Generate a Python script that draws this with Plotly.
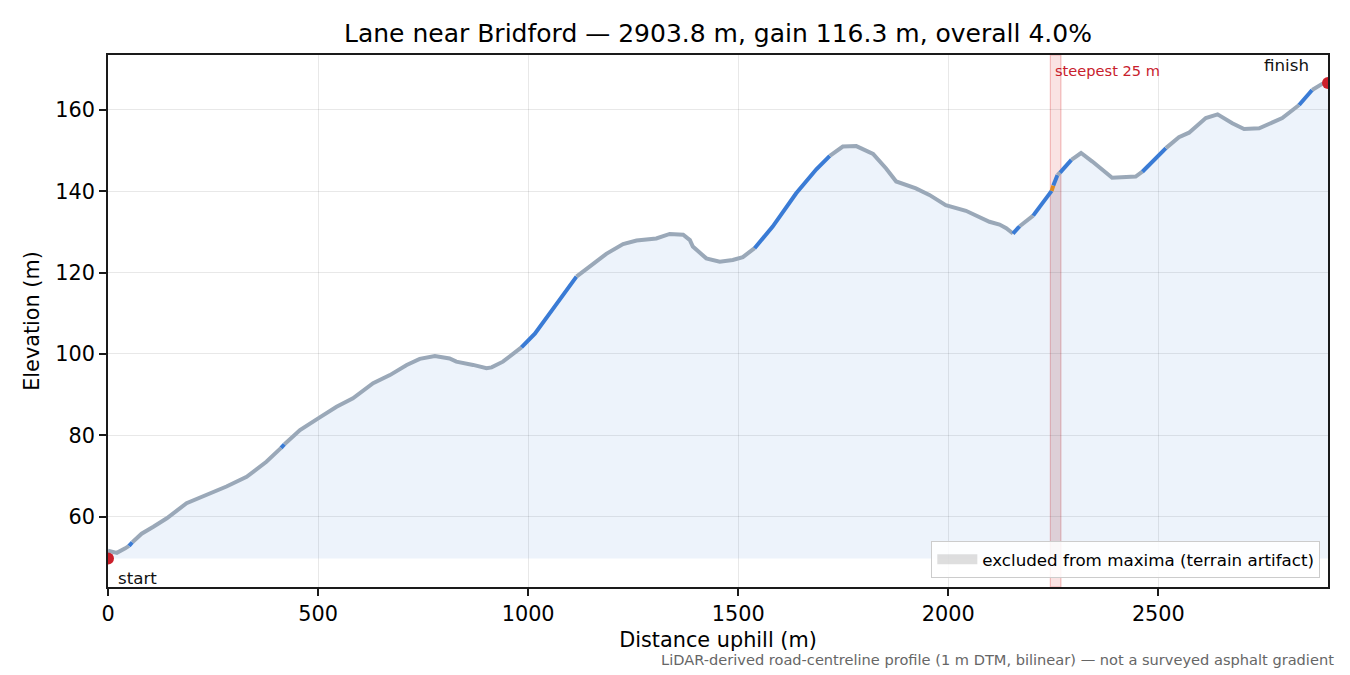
import numpy as np
import plotly.graph_objects as go

# ---- data ----
distance_m = [0, 21, 41, 50, 58, 80, 108, 140, 187, 243, 282, 330, 377, 412, 420, 457,
              504, 544, 583, 631, 671, 711, 742, 778, 813, 829, 869, 901, 913, 940, 984,
              1016, 1060, 1091, 1115, 1147, 1186, 1226, 1258, 1305, 1337, 1369, 1385, 1392,
              1424, 1456, 1487, 1511, 1527, 1539, 1582, 1638, 1686, 1718, 1749, 1781, 1821,
              1852, 1876, 1923, 1955, 1994, 2042, 2098, 2122, 2138, 2154, 2170, 2202, 2225,
              2246, 2250, 2260, 2266, 2293, 2316, 2343, 2390, 2446, 2462, 2518, 2549, 2573,
              2613, 2641, 2676, 2704, 2740, 2795, 2835, 2866, 2890, 2903.8]
elevation_m = [51.6, 51.1, 52.2, 52.8, 53.7, 55.8, 57.5, 59.6, 63.3, 65.7, 67.4, 69.8, 73.5,
               76.9, 77.8, 81.3, 84.4, 87.0, 89.1, 92.8, 94.8, 97.3, 98.8, 99.5, 98.9, 98.1,
               97.3, 96.5, 96.7, 98.1, 101.6, 105.0, 111.2, 115.7, 119.0, 121.5, 124.6,
               127.0, 127.9, 128.4, 129.5, 129.3, 128.0, 126.4, 123.5, 122.7, 123.1, 123.8,
               125.2, 126.0, 131.3, 139.5, 145.4, 148.7, 151.0, 151.1, 149.2, 145.6, 142.4,
               140.7, 139.1, 136.6, 135.2, 132.5, 131.8, 130.9, 129.6, 131.4, 134.0, 137.4,
               140.1, 141.4, 144.0, 144.6, 147.7, 149.4, 147.3, 143.3, 143.6, 144.8, 150.6,
               153.3, 154.4, 158.0, 158.9, 156.7, 155.3, 155.5, 158.0, 161.2, 164.9, 166.4,
               166.6]
start_point = [0, 49.7]
finish_point = [2903.8, 166.6]
steepest_span = [2243, 2268]
excluded_span = [2243, 2268]
grade_limits = [10.0, 30.0]          # % : below -> gray, between -> blue, above -> orange
grade_colors = ["#9aa8b8", "#3a7bd5", "#e08a1e"]
x_ticks = [0, 500, 1000, 1500, 2000, 2500]
y_ticks = [60, 80, 100, 120, 140, 160]

title = "Lane near Bridford \u2014 2903.8 m, gain 116.3 m, overall 4.0%"
footnote = "LiDAR-derived road-centreline profile (1 m DTM, bilinear) \u2014 not a surveyed asphalt gradient"

d = np.array(distance_m, dtype=float)
z = np.array(elevation_m, dtype=float)
base = start_point[1]

fig = go.Figure()

# area under profile
fig.add_trace(go.Scatter(
    x=list(d) + [d[-1], d[0]], y=list(z) + [base, base],
    fill="toself", fillcolor="rgba(58,120,216,0.09)", line=dict(width=0),
    mode="lines", hoverinfo="skip", showlegend=False))

# excluded region (under the line)
ex = np.concatenate([[excluded_span[0]], d[(d > excluded_span[0]) & (d < excluded_span[1])], [excluded_span[1]]])
ez = np.interp(ex, d, z)
fig.add_trace(go.Scatter(
    x=list(ex) + [ex[-1], ex[0]], y=list(ez) + [base, base],
    fill="toself", fillcolor="rgba(128,128,128,0.10)", line=dict(width=0),
    mode="lines", hoverinfo="skip", showlegend=False))
# legend entry for the excluded region
fig.add_trace(go.Scatter(
    x=[None], y=[None], mode="lines", name="excluded from maxima (terrain artifact)",
    line=dict(color="rgba(160,160,160,0.35)", width=12), showlegend=True))

# gradient-coloured profile line
grade = np.diff(z) / np.diff(d) * 100.0
cls = np.where(grade >= grade_limits[1], 2, np.where(grade >= grade_limits[0], 1, 0))
runs = []
start = 0
for i in range(1, len(cls) + 1):
    if i == len(cls) or cls[i] != cls[start]:
        runs.append((start, i, cls[start]))
        start = i
for (a, b, c) in runs:
    fig.add_trace(go.Scatter(
        x=d[a:b + 1], y=z[a:b + 1], mode="lines",
        line=dict(color=grade_colors[c], width=4), showlegend=False, hoverinfo="skip"))

# start / finish markers
fig.add_trace(go.Scatter(
    x=[start_point[0], finish_point[0]], y=[start_point[1], finish_point[1]],
    mode="markers", marker=dict(color="#cc1f2b", size=12), showlegend=False))

# steepest band
fig.add_shape(type="rect", xref="x", yref="paper", x0=steepest_span[0], x1=steepest_span[1],
              y0=0, y1=1, fillcolor="rgba(214,39,40,0.13)",
              line=dict(color="rgba(214,39,40,0.28)", width=1.2), layer="below")

fig.add_annotation(x=steepest_span[0] + 7, y=169.8, xref="x", yref="y", text="steepest 25 m",
                   showarrow=False, xanchor="left", yanchor="middle",
                   font=dict(size=14.6, color="#c8202c"))
fig.add_annotation(x=2864, y=171.1, xref="x", yref="y", text="finish", showarrow=False,
                   xanchor="right", yanchor="middle", font=dict(size=16.7, color="#111"))
fig.add_annotation(x=19.5, y=44.9, xref="x", yref="y", text="start", showarrow=False,
                   xanchor="left", yanchor="middle", font=dict(size=16.7, color="#111"))
fig.add_annotation(x=1.0069, y=-0.1372, xref="paper", yref="paper", text=footnote,
                   showarrow=False, xanchor="right", yanchor="middle",
                   font=dict(size=14.6, color="#666666"))

axis_common = dict(showline=True, linecolor="#1a1a1a", linewidth=1.6, mirror=True,
                   ticks="outside", ticklen=7, tickwidth=1.6, tickcolor="#1a1a1a",
                   showgrid=True, gridcolor="rgba(0,0,0,0.09)", gridwidth=1.2,
                   zeroline=False, tickfont=dict(size=20.8, color="#000"))

fig.update_layout(
    width=1350, height=675,
    margin=dict(l=108, r=22, t=55, b=88),
    paper_bgcolor="white", plot_bgcolor="white",
    font=dict(family="DejaVu Sans", color="#000"),
    title=dict(text=title, x=0.5, xref="paper", xanchor="center",
               y=1 - 33 / 675, yref="container", yanchor="middle",
               font=dict(size=25, color="#000")),
    xaxis=dict(range=[0, 2903.8], tickvals=x_ticks,
               title=dict(text="Distance uphill (m)", font=dict(size=20.8), standoff=8),
               **axis_common),
    yaxis=dict(range=[42.7, 173.5], tickvals=y_ticks,
               title=dict(text="Elevation (m)", font=dict(size=20.8), standoff=10),
               **axis_common),
    legend=dict(x=0.9937, y=0.017, xanchor="right", yanchor="bottom",
                bgcolor="rgba(255,255,255,0.85)", bordercolor="#cccccc", borderwidth=1,
                itemwidth=40, font=dict(size=16.7)),
)

fig.write_html("out.html")
